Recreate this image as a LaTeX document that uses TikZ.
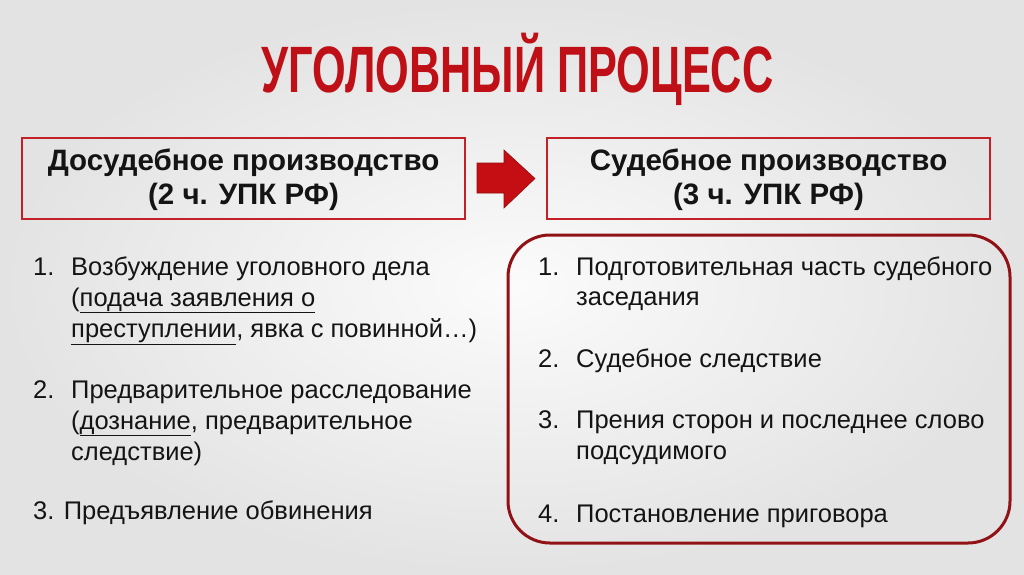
\documentclass[tikz,border=0pt]{standalone}
\usepackage{fontspec}
\setmainfont{Liberation Sans}
\definecolor{titlered}{RGB}{190,16,22}
\definecolor{boxred}{RGB}{196,32,40}
\definecolor{roundred}{RGB}{145,18,22}
\definecolor{arrowred}{RGB}{196,14,20}
\definecolor{arrowdark}{RGB}{150,10,14}
\definecolor{txt}{RGB}{20,20,20}
\tikzset{
  hdrbox/.style={draw=boxred, line width=1.6pt},
  hdrtext/.style={font=\bfseries\fontsize{29.5}{34}\selectfont, text=txt, align=center, inner sep=0pt},
  item/.style={font=\fontsize{25.5}{30}\selectfont, text=txt, anchor=base west, inner sep=0pt},
}
\begin{document}
\begin{tikzpicture}[x=1pt,y=-1pt]
\useasboundingbox (0,0) rectangle (1024,574);
\shade[inner color=white!97!gray, outer color=gray!22] (0,0) rectangle (1024,574);
% title
\node[anchor=base, inner sep=0pt, text=titlered] (title) at (517.5,92)
  {\scalebox{0.66}[1]{\bfseries\fontsize{65.6}{70}\selectfont УГОЛОВНЫЙ ПРОЦЕСС}};
% header boxes
\draw[hdrbox] (22,138) rectangle (465,219);
\node[hdrtext, anchor=base] (l1) at (243.5,170) {Досудебное производство};
\node[hdrtext, anchor=base] (l2) at (243.5,204) {(2 ч. УПК РФ)};
\draw[hdrbox] (547,138) rectangle (990,219);
\node[hdrtext, anchor=base] (r1) at (768.5,170) {Судебное производство};
\node[hdrtext, anchor=base] (r2) at (768.5,204) {(3 ч. УПК РФ)};
% arrow
\fill[arrowred, draw=arrowdark, line width=0.6pt, line join=miter]
  (477,163) -- (504,163) -- (504,150) -- (535,178.5) -- (504,208) -- (504,193) -- (477,193) -- cycle;
% rounded frame
\draw[roundred, line width=3pt, rounded corners=42pt] (508,235) rectangle (1010,543);
% left list
\node[item] (ln1) at (33,275) {1.};
\node[item] (la1) at (71,275) {Возбуждение уголовного дела};
\node[item] (la2) at (71,306) {(\underline{подача заявления о}};
\node[item] (la3) at (71,337) {\underline{преступлении}, явка с повинной…)};
\node[item] (ln2) at (33,398) {2.};
\node[item] (lb1) at (71,398) {Предварительное расследование};
\node[item] (lb2) at (71,429) {(\underline{дознание}, предварительное};
\node[item] (lb3) at (71,460) {следствие)};
\node[item] (lc1) at (33,519) {3. Предъявление обвинения};
% right list
\node[item] (rn1) at (538,275) {1.};
\node[item] (ra1) at (576,275) {Подготовительная часть судебного};
\node[item] (ra2) at (576,305) {заседания};
\node[item] (rn2) at (538,367) {2.};
\node[item] (rb1) at (576,367) {Судебное следствие};
\node[item] (rn3) at (538,428) {3.};
\node[item] (rc1) at (576,428) {Прения сторон и последнее слово};
\node[item] (rc2) at (576,459) {подсудимого};
\node[item] (rn4) at (538,522) {4.};
\node[item] (rd1) at (576,522) {Постановление приговора};
\end{tikzpicture}
\end{document}
